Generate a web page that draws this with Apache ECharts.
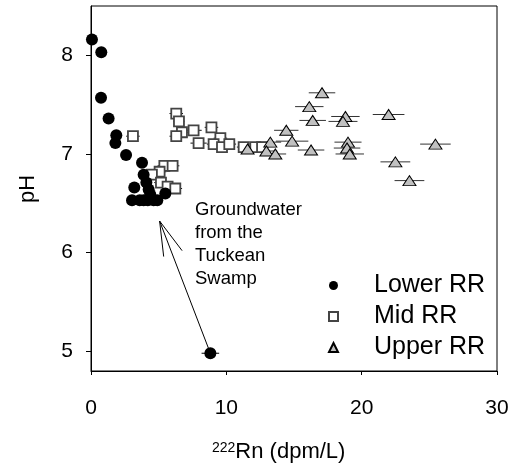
<!DOCTYPE html>
<html>
<head>
<meta charset="utf-8">
<script src="https://cdn.jsdelivr.net/npm/echarts@6/dist/echarts.min.js"></script>
<style>
html, body { margin: 0; padding: 0; background: #fff; }
#chart { width: 513px; height: 469px; }
</style>
</head>
<body>
<div id="chart"></div>
<script>
// 222Rn (dpm/L), pH and the +/- error on Rn
var lowerX = [0.07, 0.76, 0.74, 1.3, 1.87, 1.8, 2.59, 3.77, 3.89, 4.09, 3.2, 4.26, 3.03, 3.89, 4.63, 4.38, 5.49, 4.9, 3.6, 4.2, 8.82];
var lowerY = [8.16, 8.03, 7.57, 7.36, 7.19, 7.11, 6.99, 6.91, 6.79, 6.71, 6.66, 6.64, 6.53, 6.53, 6.53, 6.59, 6.6, 6.53, 6.53, 6.53, 4.98];
var lowerErr = [0.1, 0.1, 0.1, 0.1, 0.2, 0.2, 0.2, 0.3, 0.3, 0.3, 0.3, 0.3, 0.3, 0.3, 0.3, 0.3, 0.3, 0.3, 0.3, 0.3, 0.65];

var midX = [6.3, 6.5, 6.72, 6.3, 7.58, 8.9, 7.95, 9.56, 9.06, 9.68, 10.22, 11.28, 12.14, 12.64, 3.1, 5.42, 6.03, 5.07, 4.5, 5.17, 5.66, 6.23];
var midY = [7.41, 7.33, 7.22, 7.18, 7.24, 7.27, 7.11, 7.16, 7.10, 7.07, 7.10, 7.07, 7.07, 7.07, 7.18, 6.88, 6.88, 6.82, 6.79, 6.71, 6.67, 6.65];
var midErr = [0.5, 0.4, 0.5, 0.5, 0.6, 0.5, 0.6, 0.5, 0.5, 0.5, 0.5, 0.5, 0.5, 0.5, 0.5, 0.5, 0.5, 0.5, 0.5, 0.5, 0.5, 0.5];

var upperX = [11.57, 13.25, 12.96, 13.62, 14.43, 14.86, 17.07, 16.13, 16.38, 18.8, 18.62, 21.99, 16.26, 18.99, 18.92, 19.12, 25.45, 22.49, 23.53];
var upperY = [7.05, 7.12, 7.03, 7.0, 7.24, 7.13, 7.62, 7.48, 7.34, 7.38, 7.33, 7.40, 7.04, 7.12, 7.06, 7.0, 7.10, 6.92, 6.73];
var upperErr = [0.6, 0.8, 0.8, 0.8, 0.9, 1.2, 0.98, 1.05, 0.98, 1.05, 1.07, 1.17, 0.98, 1.0, 0.98, 1.05, 1.13, 1.1, 1.1];

var xTicks = [0, 10, 20, 30];
var yTicks = [5, 6, 7, 8];

// arrow from the swamp sample back to the low-Rn cluster
var arrowTip = [5.07, 6.32];
var arrowArms = [[6.73, 6.02], [5.37, 5.96]];
var swampPoint = [8.82, 4.98];

var FONT = "Liberation Sans, Arial, sans-serif";

function pairs(xs, ys, es) {
    return xs.map(function (x, i) { return es ? [x, ys[i], es[i]] : [x, ys[i]]; });
}

function errorSeries(xs, ys, es, color) {
    return {
        type: "custom",
        silent: true,
        z: 1,
        data: pairs(xs, ys, es),
        renderItem: function (params, api) {
            var a = api.coord([api.value(0) - api.value(2), api.value(1)]);
            var b = api.coord([api.value(0) + api.value(2), api.value(1)]);
            return {
                type: "line",
                shape: { x1: a[0], y1: a[1], x2: b[0], y2: b[1] },
                style: { stroke: color, lineWidth: 1 }
            };
        }
    };
}

var chart = echarts.init(document.getElementById("chart"));
var option = {
    animation: false,
    grid: { left: 91, right: 16, top: 6, bottom: 98, show: true, borderColor: "#000", borderWidth: 1 },
    xAxis: {
        type: "value",
        min: 0, max: 30, interval: 10,
        axisLine: { lineStyle: { color: "#000" } },
        axisTick: { show: true, length: 4, lineStyle: { color: "#000" } },
        axisLabel: { fontFamily: FONT, fontSize: 21, color: "#000", margin: 27, customValues: xTicks },
        splitLine: { show: false }
    },
    yAxis: {
        type: "value",
        min: 4.8, max: 8.5,
        axisLine: { show: true, lineStyle: { color: "#000" } },
        axisTick: { show: true, length: 5, lineStyle: { color: "#000" }, customValues: yTicks },
        axisLabel: { fontFamily: FONT, fontSize: 21, color: "#000", margin: 18, customValues: yTicks },
        splitLine: { show: false }
    },
    legend: {
        orient: "vertical",
        left: 323, top: 268,
        itemGap: 6,
        itemWidth: 9, itemHeight: 9,
        data: ["Lower RR", "Mid RR", "Upper RR"],
        textStyle: { fontFamily: FONT, fontSize: 25, color: "#000", padding: [0, 0, 0, 31] }
    },
    graphic: [{
        type: "text",
        left: 195, top: 198,
        style: {
            text: "Groundwater\nfrom the\nTuckean\nSwamp",
            font: "18.5px " + FONT,
            lineHeight: 23,
            fill: "#000"
        }
    }, {
        type: "text",
        left: 212, top: 441,
        style: {
            text: "{s|222}{n|Rn (dpm/L)}",
            rich: {
                s: { fontFamily: FONT, fontSize: 14, verticalAlign: "top", fill: "#000" },
                n: { fontFamily: FONT, fontSize: 22, fill: "#000" }
            }
        }
    }, {
        type: "text",
        x: 28, y: 189,
        rotation: Math.PI / 2,
        style: { text: "pH", font: "22px " + FONT, fill: "#000", align: "center", verticalAlign: "middle" }
    }],
    series: [
        errorSeries(lowerX, lowerY, lowerErr, "#000"),
        errorSeries(midX, midY, midErr, "#111"),
        errorSeries(upperX, upperY, upperErr, "#333"),
        {
            name: "Mid RR",
            type: "scatter",
            z: 3,
            symbol: "rect",
            symbolSize: 10,
            itemStyle: { color: "#fff", borderColor: "#444", borderWidth: 1.8, opacity: 1 },
            data: pairs(midX, midY)
        },
        {
            name: "Upper RR",
            type: "scatter",
            z: 3,
            symbol: "triangle",
            symbolSize: [13, 10],
            itemStyle: { color: "#c0c0c0", borderColor: "#000", borderWidth: 1, opacity: 1 },
            data: pairs(upperX, upperY)
        },
        {
            name: "Lower RR",
            type: "scatter",
            z: 4,
            symbol: "circle",
            symbolSize: 12,
            itemStyle: { color: "#000", opacity: 1 },
            data: pairs(lowerX, lowerY),
            markLine: {
                silent: true,
                symbol: "none",
                lineStyle: { color: "#000", width: 1, type: "solid" },
                label: { show: false },
                data: [
                    [{ coord: swampPoint }, { coord: arrowTip }],
                    [{ coord: arrowTip }, { coord: arrowArms[0] }],
                    [{ coord: arrowTip }, { coord: arrowArms[1] }]
                ]
            }
        }
    ]
};
chart.setOption(option);
</script>
</body>
</html>
